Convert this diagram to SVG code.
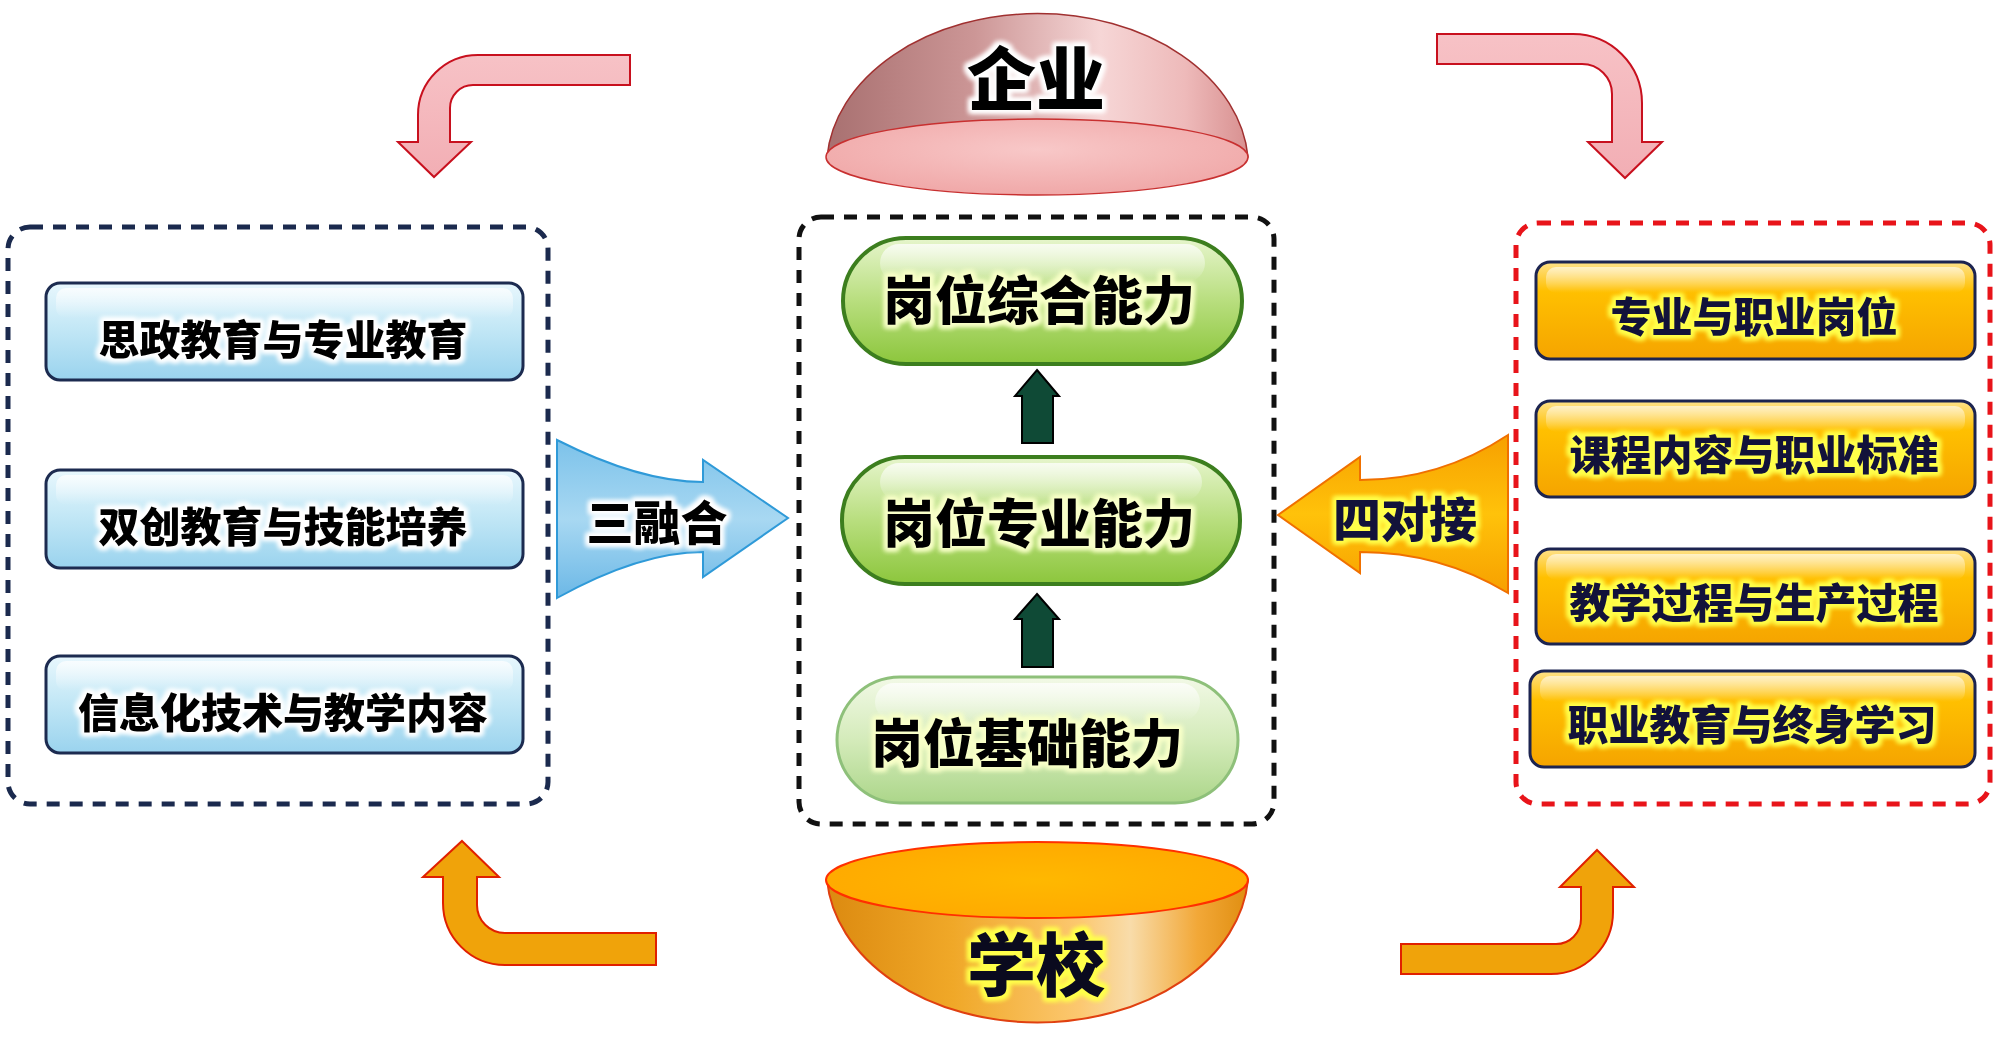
<svg xmlns="http://www.w3.org/2000/svg" width="2000" height="1045" viewBox="0 0 2000 1045">
<defs>
<style>
.t{font-family:"Noto Sans CJK SC","Noto Sans",sans-serif;font-weight:900;text-anchor:middle;dominant-baseline:central}
.blueBox{fill:url(#gBlue);stroke:#1c2b50;stroke-width:3}
.orgBox{fill:url(#gOrg);stroke:#1c2450;stroke-width:3}
.pill{fill:url(#gGreen);stroke:#3c7e1e;stroke-width:4}
.pillL{fill:url(#gGreenL);stroke:#8ec07a;stroke-width:3}
.gloss{fill:url(#gGloss)}
.frame{fill:none;stroke-width:5;stroke-dasharray:13 10}
.pinkArr{fill:url(#gPink);stroke:#c8101e;stroke-width:2}
.orgArr{fill:#f0a30a;stroke:#e02000;stroke-width:2}
.upArr{fill:#0f4a36;stroke:#000;stroke-width:2}
</style>
<linearGradient id="gBlue" x1="0" y1="0" x2="0" y2="1">
<stop offset="0" stop-color="#e8f7fd"/><stop offset="0.45" stop-color="#c4e8f6"/><stop offset="1" stop-color="#9ad3ee"/>
</linearGradient>
<linearGradient id="gOrg" x1="0" y1="0" x2="0" y2="1">
<stop offset="0" stop-color="#ffe28a"/><stop offset="0.3" stop-color="#ffc000"/><stop offset="1" stop-color="#f5a400"/>
</linearGradient>
<linearGradient id="gGreen" x1="0" y1="0" x2="0" y2="1">
<stop offset="0" stop-color="#e6f5cc"/><stop offset="0.5" stop-color="#b8de7e"/><stop offset="1" stop-color="#8cc63c"/>
</linearGradient>
<linearGradient id="gGreenL" x1="0" y1="0" x2="0" y2="1">
<stop offset="0" stop-color="#f2f9e6"/><stop offset="0.5" stop-color="#d4ebba"/><stop offset="1" stop-color="#acd68a"/>
</linearGradient>
<linearGradient id="gGloss" x1="0" y1="0" x2="0" y2="1">
<stop offset="0" stop-color="#fff" stop-opacity="0.75"/><stop offset="1" stop-color="#fff" stop-opacity="0"/>
</linearGradient>
<linearGradient id="gPink" x1="0" y1="0" x2="0" y2="1">
<stop offset="0" stop-color="#f7c2c6"/><stop offset="1" stop-color="#f2aeb4"/>
</linearGradient>
<linearGradient id="gBlueArr" x1="0" y1="0" x2="0" y2="1">
<stop offset="0" stop-color="#7cc2ea"/><stop offset="0.5" stop-color="#a8d8f2"/><stop offset="1" stop-color="#6cb8e6"/>
</linearGradient>
<linearGradient id="gOrgArr" x1="0" y1="0" x2="0" y2="1">
<stop offset="0" stop-color="#f7a000"/><stop offset="0.5" stop-color="#ffc20a"/><stop offset="1" stop-color="#f7a000"/>
</linearGradient>
<linearGradient id="gDome" x1="0" y1="0" x2="1" y2="0">
<stop offset="0" stop-color="#a87070"/><stop offset="0.35" stop-color="#cc9696"/><stop offset="0.65" stop-color="#f6d6d6"/><stop offset="0.85" stop-color="#eebaba"/><stop offset="1" stop-color="#d89090"/>
</linearGradient>
<radialGradient id="gDomeFace" cx="0.5" cy="0.4" r="0.6">
<stop offset="0" stop-color="#f8c8c8"/><stop offset="1" stop-color="#f0a8a8"/>
</radialGradient>
<linearGradient id="gBowl" x1="0" y1="0" x2="1" y2="0">
<stop offset="0" stop-color="#dc8a10"/><stop offset="0.3" stop-color="#f0a828"/><stop offset="0.6" stop-color="#fcc870"/><stop offset="0.72" stop-color="#f8dcaa"/><stop offset="0.88" stop-color="#f2a838"/><stop offset="1" stop-color="#e08e10"/>
</linearGradient>
<radialGradient id="gRim" cx="0.5" cy="0.5" r="0.6">
<stop offset="0" stop-color="#ffb800"/><stop offset="1" stop-color="#ffa800"/>
</radialGradient>
<filter id="gw" x="-20%" y="-40%" width="140%" height="180%" color-interpolation-filters="sRGB">
<feMorphology in="SourceAlpha" operator="dilate" radius="2.5" result="d"/>
<feGaussianBlur in="d" stdDeviation="2.5" result="b"/>
<feFlood flood-color="#ffffff"/>
<feComposite in2="b" operator="in" result="g"/>
<feMerge><feMergeNode in="g"/><feMergeNode in="g"/><feMergeNode in="SourceGraphic"/></feMerge>
</filter>
<filter id="gy" x="-20%" y="-40%" width="140%" height="180%" color-interpolation-filters="sRGB">
<feMorphology in="SourceAlpha" operator="dilate" radius="2.5" result="d"/>
<feGaussianBlur in="d" stdDeviation="2.5" result="b"/>
<feFlood flood-color="#ffff4a"/>
<feComposite in2="b" operator="in" result="g"/>
<feMerge><feMergeNode in="g"/><feMergeNode in="g"/><feMergeNode in="SourceGraphic"/></feMerge>
</filter>
<filter id="gl" x="-20%" y="-40%" width="140%" height="180%" color-interpolation-filters="sRGB">
<feMorphology in="SourceAlpha" operator="dilate" radius="2.5" result="d"/>
<feGaussianBlur in="d" stdDeviation="2.5" result="b"/>
<feFlood flood-color="#f8ffc8"/>
<feComposite in2="b" operator="in" result="g"/>
<feMerge><feMergeNode in="g"/><feMergeNode in="g"/><feMergeNode in="SourceGraphic"/></feMerge>
</filter>
</defs>
<rect width="2000" height="1045" fill="#fff"/>

<!-- frames -->
<rect id="frameLeft" class="frame" x="8" y="227" width="540" height="577" rx="22" stroke="#1b2a4e"/>
<rect id="frameCenter" class="frame" x="799" y="217" width="475" height="607" rx="22" stroke="#111"/>
<rect id="frameRight" class="frame" x="1516" y="223" width="474" height="581" rx="22" stroke="#e8141a"/>

<!-- enterprise dome -->
<g id="qiye">
<path d="M827,157 A211,154 0 0 1 1248,157 A211,38 0 0 1 827,157 Z" fill="url(#gDome)" stroke="#a03030" stroke-width="1.5"/>
<ellipse cx="1037" cy="157" rx="211" ry="38" fill="url(#gDomeFace)" stroke="#c83030" stroke-width="1.5"/>
<text class="t" x="1036" y="75" font-size="69" fill="#000" filter="url(#gw)">企业</text>
</g>

<!-- school bowl -->
<g id="xuexiao">
<path d="M827,880 A211,153 0 0 0 1248,880 A211,38 0 0 0 827,880 Z" fill="url(#gBowl)" stroke="#e04010" stroke-width="2"/>
<ellipse cx="1037" cy="880" rx="211" ry="38" fill="url(#gRim)" stroke="#ff3000" stroke-width="2"/>
<text class="t" x="1036" y="961" font-size="69" fill="#0a0a1e" filter="url(#gy)">学校</text>
</g>

<!-- left boxes -->
<g id="left1">
<rect class="blueBox" x="46" y="283" width="477" height="97" rx="14"/>
<rect class="gloss" x="56" y="288" width="457" height="30" rx="10"/>
<text class="t" x="283" y="337" font-size="41" fill="#000" filter="url(#gw)">思政教育与专业教育</text>
</g>
<g id="left2">
<rect class="blueBox" x="46" y="470" width="477" height="98" rx="14"/>
<rect class="gloss" x="56" y="475" width="457" height="30" rx="10"/>
<text class="t" x="283" y="524" font-size="41" fill="#000" filter="url(#gw)">双创教育与技能培养</text>
</g>
<g id="left3">
<rect class="blueBox" x="46" y="656" width="477" height="97" rx="14"/>
<rect class="gloss" x="56" y="661" width="457" height="30" rx="10"/>
<text class="t" x="283" y="710" font-size="41" fill="#000" filter="url(#gw)">信息化技术与教学内容</text>
</g>

<!-- center pills -->
<g id="pill1">
<rect class="pill" x="843" y="238" width="399" height="126" rx="63"/>
<rect class="gloss" x="880" y="244" width="325" height="38" rx="19"/>
<text class="t" x="1039" y="297" font-size="52" fill="#000" filter="url(#gl)">岗位综合能力</text>
</g>
<g id="pill2">
<rect class="pill" x="842" y="457" width="398" height="127" rx="63"/>
<rect class="gloss" x="880" y="463" width="322" height="38" rx="19"/>
<text class="t" x="1039" y="520" font-size="52" fill="#000" filter="url(#gl)">岗位专业能力</text>
</g>
<g id="pill3">
<rect class="pillL" x="837" y="677" width="401" height="126" rx="63"/>
<rect class="gloss" x="875" y="683" width="325" height="38" rx="19"/>
<text class="t" x="1027" y="740" font-size="52" fill="#000" filter="url(#gl)">岗位基础能力</text>
</g>

<!-- right boxes -->
<g id="right1">
<rect class="orgBox" x="1536" y="262" width="439" height="97" rx="14"/>
<rect class="gloss" x="1546" y="267" width="419" height="26" rx="10" opacity="0.8"/>
<text class="t" x="1754" y="314" font-size="41" fill="#12123a" filter="url(#gy)">专业与职业岗位</text>
</g>
<g id="right2">
<rect class="orgBox" x="1536" y="401" width="439" height="96" rx="14"/>
<rect class="gloss" x="1546" y="406" width="419" height="26" rx="10" opacity="0.8"/>
<text class="t" x="1754" y="452" font-size="41" fill="#12123a" filter="url(#gy)">课程内容与职业标准</text>
</g>
<g id="right3">
<rect class="orgBox" x="1536" y="549" width="439" height="95" rx="14"/>
<rect class="gloss" x="1546" y="554" width="419" height="26" rx="10" opacity="0.8"/>
<text class="t" x="1754" y="600" font-size="41" fill="#12123a" filter="url(#gy)">教学过程与生产过程</text>
</g>
<g id="right4">
<rect class="orgBox" x="1530" y="671" width="445" height="96" rx="14"/>
<rect class="gloss" x="1540" y="676" width="425" height="26" rx="10" opacity="0.8"/>
<text class="t" x="1752" y="722" font-size="41" fill="#12123a" filter="url(#gy)">职业教育与终身学习</text>
</g>

<!-- connectors -->
<g id="connectors">
<path class="pinkArr" d="M630,55 L478,55 A60,60 0 0 0 418,115 L418,142 L398,142 L434,177 L471,142 L450,142 L450,108 A23,23 0 0 1 473,85 L630,85 Z"/>
<path class="pinkArr" d="M1437,34 L1573,34 A69,69 0 0 1 1642,103 L1642,142 L1662,142 L1625,178 L1588,142 L1612,142 L1612,94 A30,30 0 0 0 1582,64 L1437,64 Z"/>
<path class="orgArr" d="M462,841 L499,877 L477,877 L477,905 A28,28 0 0 0 505,933 L656,933 L656,965 L505,965 A62,62 0 0 1 443,903 L443,877 L423,877 Z"/>
<path class="orgArr" d="M1597,850 L1634,887 L1613,887 L1613,912 A62,62 0 0 1 1551,974 L1401,974 L1401,944 L1556,944 A25,25 0 0 0 1581,919 L1581,887 L1560,887 Z"/>
<path class="upArr" d="M1037,370 L1059,396 L1053,396 L1053,443 L1022,443 L1022,396 L1015,396 Z"/>
<path class="upArr" d="M1037,594 L1059,619 L1053,619 L1053,667 L1022,667 L1022,619 L1015,619 Z"/>
<g id="sanronghe">
<path d="M557,440 Q640,482 703,482 L703,460 L788,518 L703,577 L703,552 Q640,552 557,598 Z" fill="url(#gBlueArr)" stroke="#2f9ad8" stroke-width="2"/>
<text class="t" x="657" y="519" font-size="47" fill="#000" filter="url(#gw)">三融合</text>
</g>
<g id="siduijie">
<path d="M1278,515 L1360,457 L1360,480 Q1440,480 1508,435 L1508,593 Q1440,552 1360,552 L1360,573 Z" fill="url(#gOrgArr)" stroke="#f07000" stroke-width="2"/>
<text class="t" x="1405" y="516" font-size="48" fill="#12123a" filter="url(#gy)">四对接</text>
</g>
</g>
</svg>
